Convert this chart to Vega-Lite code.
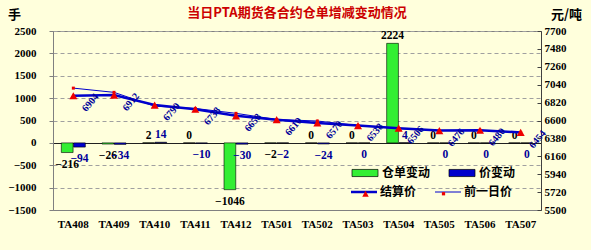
{
  "$schema": "https://vega.github.io/schema/vega-lite/v6.json",
  "width": 488,
  "height": 179,
  "autosize": {"type": "none"},
  "padding": {"left": 53, "top": 31, "right": 50, "bottom": 40},
  "background": "#FFFFDC",
  "title": {
    "text": "当日PTA期货各合约仓单增减变动情况",
    "color": "#CC0000",
    "font": "Noto Sans CJK SC",
    "fontSize": 13,
    "fontWeight": "bold",
    "anchor": "middle",
    "frame": "group",
    "offset": 8,
    "dy": 20
  },
  "datasets": {
    "bars": [
      {"contract": "TA408", "series": "仓单变动", "value": -216},
      {"contract": "TA408", "series": "价变动", "value": -94},
      {"contract": "TA409", "series": "仓单变动", "value": -26},
      {"contract": "TA409", "series": "价变动", "value": -34},
      {"contract": "TA410", "series": "仓单变动", "value": 2},
      {"contract": "TA410", "series": "价变动", "value": 14},
      {"contract": "TA411", "series": "仓单变动", "value": 0},
      {"contract": "TA411", "series": "价变动", "value": -10},
      {"contract": "TA412", "series": "仓单变动", "value": -1046},
      {"contract": "TA412", "series": "价变动", "value": -30},
      {"contract": "TA501", "series": "仓单变动", "value": -2},
      {"contract": "TA501", "series": "价变动", "value": -2},
      {"contract": "TA502", "series": "仓单变动", "value": 0},
      {"contract": "TA502", "series": "价变动", "value": -24},
      {"contract": "TA503", "series": "仓单变动", "value": 0},
      {"contract": "TA503", "series": "价变动", "value": 0},
      {"contract": "TA504", "series": "仓单变动", "value": 2224},
      {"contract": "TA504", "series": "价变动", "value": 4},
      {"contract": "TA505", "series": "仓单变动", "value": 0},
      {"contract": "TA505", "series": "价变动", "value": 0},
      {"contract": "TA506", "series": "仓单变动", "value": 0},
      {"contract": "TA506", "series": "价变动", "value": 0},
      {"contract": "TA507", "series": "仓单变动", "value": 0},
      {"contract": "TA507", "series": "价变动", "value": 0}
    ],
    "prices": [
      {"contract": "TA408", "series": "结算价", "price": 6904},
      {"contract": "TA408", "series": "前一日价", "price": 6998},
      {"contract": "TA409", "series": "结算价", "price": 6912},
      {"contract": "TA409", "series": "前一日价", "price": 6946},
      {"contract": "TA410", "series": "结算价", "price": 6790},
      {"contract": "TA410", "series": "前一日价", "price": 6776},
      {"contract": "TA411", "series": "结算价", "price": 6738},
      {"contract": "TA411", "series": "前一日价", "price": 6748},
      {"contract": "TA412", "series": "结算价", "price": 6658},
      {"contract": "TA412", "series": "前一日价", "price": 6688},
      {"contract": "TA501", "series": "结算价", "price": 6610},
      {"contract": "TA501", "series": "前一日价", "price": 6612},
      {"contract": "TA502", "series": "结算价", "price": 6570},
      {"contract": "TA502", "series": "前一日价", "price": 6594},
      {"contract": "TA503", "series": "结算价", "price": 6538},
      {"contract": "TA503", "series": "前一日价", "price": 6538},
      {"contract": "TA504", "series": "结算价", "price": 6506},
      {"contract": "TA504", "series": "前一日价", "price": 6502},
      {"contract": "TA505", "series": "结算价", "price": 6476},
      {"contract": "TA505", "series": "前一日价", "price": 6476},
      {"contract": "TA506", "series": "结算价", "price": 6480},
      {"contract": "TA506", "series": "前一日价", "price": 6480},
      {"contract": "TA507", "series": "结算价", "price": 6454},
      {"contract": "TA507", "series": "前一日价", "price": 6454}
    ]
  },
  "layer": [
    {
      "data": {"name": "bars"},
      "encoding": {
        "x": {
          "field": "contract", "type": "nominal", "sort": null, "title": null,
          "scale": {"domain": ["TA408","TA409","TA410","TA411","TA412","TA501","TA502","TA503","TA504","TA505","TA506","TA507"], "paddingInner": 0.41, "paddingOuter": 0.205},
          "axis": {"labelAngle": 0, "ticks": false, "labelPadding": 8, "domainColor": "#808080", "labelFont": "Liberation Serif", "labelFontWeight": "bold", "labelFontSize": 11, "labelColor": "#000000", "grid": false}
        },
        "xOffset": {"field": "series", "type": "nominal", "sort": ["仓单变动", "价变动"], "scale": {"domain": ["仓单变动", "价变动"], "paddingInner": 0.04, "paddingOuter": 0}},
        "y": {
          "field": "value", "type": "quantitative",
          "scale": {"domain": [-1500, 2500], "nice": false, "zero": false},
          "axis": {
            "orient": "left", "values": [-1500, -1000, -500, 0, 500, 1000, 1500, 2000, 2500], "format": "d", "labelOverlap": false, "labelFlush": false,
            "grid": true,
            "gridDash": {"condition": {"test": "datum.value === 0", "value": []}, "value": [4, 3]},
            "gridColor": {"condition": {"test": "datum.value === 0", "value": "#202020"}, "value": "#A0A0A0"},
            "domainColor": "#808080", "tickColor": "#808080", "tickSize": 4, "labelPadding": 13,
            "labelFont": "Liberation Serif", "labelFontWeight": "bold", "labelFontSize": 11, "labelColor": "#000000",
            "title": "手", "titleAngle": 0, "titleX": -39, "titleY": -17, "titleAlign": "center", "titleBaseline": "middle",
            "titleFont": "Noto Sans CJK SC", "titleFontSize": 13, "titleFontWeight": "bold", "titleColor": "#000000"
          }
        }
      },
      "layer": [
        {
          "mark": {"type": "bar", "stroke": "#000000", "strokeWidth": 0.6},
          "encoding": {
            "fill": {
              "field": "series", "type": "nominal",
              "scale": {"domain": ["仓单变动", "价变动"], "range": ["#33EE33", "#0000CC"]},
              "legend": {
                "orient": "none", "legendX": 305, "legendY": 135, "direction": "horizontal", "title": null, "padding": 0,
                "symbolType": "M-2,-0.55H2V0.55H-2Z", "symbolSize": 169, "symbolStrokeColor": "#000000", "symbolStrokeWidth": 0.7,
                "labelOffset": 10, "columnPadding": 16,
                "labelFont": "Noto Sans CJK SC", "labelFontSize": 12, "labelFontWeight": "bold", "labelColor": "#000000"
              }
            }
          }
        },
        {
          "transform": [{"filter": "datum.value > 0 || (datum.value === 0 && datum.series === '仓单变动')"}],
          "mark": {"type": "text", "baseline": "bottom", "dy": -2, "font": "Liberation Serif", "fontWeight": "bold", "fontSize": 11.5},
          "encoding": {
            "text": {"field": "value", "type": "quantitative", "format": "d"},
            "color": {"field": "series", "type": "nominal", "scale": {"domain": ["仓单变动", "价变动"], "range": ["#000000", "#000099"]}, "legend": null}
          }
        },
        {
          "transform": [{"filter": "!(datum.value > 0 || (datum.value === 0 && datum.series === '仓单变动'))"}],
          "mark": {"type": "text", "baseline": "top", "dy": 6, "font": "Liberation Serif", "fontWeight": "bold", "fontSize": 11.5},
          "encoding": {
            "text": {"field": "value", "type": "quantitative", "format": "d"},
            "color": {"field": "series", "type": "nominal", "legend": null}
          }
        }
      ]
    },
    {
      "data": {"name": "prices"},
      "encoding": {
        "x": {"field": "contract", "type": "nominal", "sort": null, "title": null},
        "y": {
          "field": "price", "type": "quantitative",
          "scale": {"domain": [5500, 7700], "nice": false, "zero": false},
          "axis": {
            "orient": "right", "values": [5500, 5720, 5940, 6160, 6380, 6600, 6820, 7040, 7260, 7480, 7700], "format": "d", "labelOverlap": false, "labelFlush": false,
            "grid": false, "domainColor": "#404040", "tickColor": "#404040", "tickSize": -4, "labelPadding": 7,
            "labelFont": "Liberation Serif", "labelFontWeight": "bold", "labelFontSize": 11, "labelColor": "#000000",
            "title": "元/吨", "titleAngle": 0, "titleX": 25, "titleY": -17, "titleAlign": "center", "titleBaseline": "middle",
            "titleFont": "Noto Sans CJK SC", "titleFontSize": 13, "titleFontWeight": "bold", "titleColor": "#000000"
          }
        }
      },
      "layer": [
        {
          "transform": [{"filter": "datum.series === '前一日价'"}],
          "mark": {"type": "line", "strokeWidth": 1},
          "encoding": {
            "stroke": {
              "field": "series", "type": "nominal",
              "scale": {"domain": ["结算价", "前一日价"], "range": ["#0000CC", "#0000CC"]},
              "legend": {
                "orient": "none", "legendX": 305, "legendY": 155, "direction": "horizontal", "title": null, "padding": 0,
                "symbolType": "M-2,0H2", "symbolSize": 169, "labelOffset": 10, "columnPadding": 16,
                "labelFont": "Noto Sans CJK SC", "labelFontSize": 12, "labelFontWeight": "bold", "labelColor": "#000000",
                "encode": {"symbols": {"update": {"strokeWidth": {"signal": "datum.value === '结算价' ? 2.5 : 1"}, "stroke": {"value": "#0000CC"}}}}
              }
            }
          }
        },
        {
          "transform": [{"filter": "datum.series === '结算价'"}],
          "mark": {"type": "line", "strokeWidth": 2.5},
          "encoding": {
            "stroke": {"field": "series", "type": "nominal"}
          }
        },
        {
          "transform": [{"filter": "datum.series === '前一日价'"}],
          "mark": {"type": "point", "filled": true, "fill": "#EE0000", "size": 144, "opacity": 1},
          "encoding": {
            "shape": {
              "field": "series", "type": "nominal",
              "scale": {"domain": ["结算价", "前一日价", "其他"], "range": ["M-0.5,0.45L0,-0.45L0.5,0.45Z", "M-0.25,-0.25H0.25V0.25H-0.25Z", "circle"]},
              "legend": {
                "orient": "none", "legendX": 305, "legendY": 155, "direction": "horizontal", "title": null, "padding": 0,
                "values": ["结算价", "前一日价"],
                "symbolSize": 169, "labelOffset": 10, "columnPadding": 16,
                "labelFont": "Noto Sans CJK SC", "labelFontSize": 12, "labelFontWeight": "bold", "labelColor": "transparent",
                "symbolFillColor": "#EE0000", "symbolStrokeColor": "transparent",
                "encode": {"symbols": {"update": {"fill": {"value": "#EE0000"}, "stroke": {"value": "transparent"}}}}
              }
            }
          }
        },
        {
          "transform": [{"filter": "datum.series === '结算价'"}],
          "mark": {"type": "point", "filled": true, "fill": "#EE0000", "size": 256, "opacity": 1},
          "encoding": {
            "shape": {"field": "series", "type": "nominal"}
          }
        },
        {
          "transform": [{"filter": "datum.series === '结算价'"}],
          "mark": {"type": "text", "angle": -50, "align": "center", "baseline": "middle", "dx": 5.6, "dy": 17.5, "font": "Liberation Serif", "fontWeight": "bold", "fontSize": 10, "color": "#000099"},
          "encoding": {
            "text": {"field": "price", "type": "quantitative", "format": "d"}
          }
        }
      ]
    }
  ],
  "resolve": {"scale": {"y": "independent"}},
  "config": {
    "view": {"stroke": "#808080"},
    "axis": {"labelFont": "Liberation Serif"}
  }
}
